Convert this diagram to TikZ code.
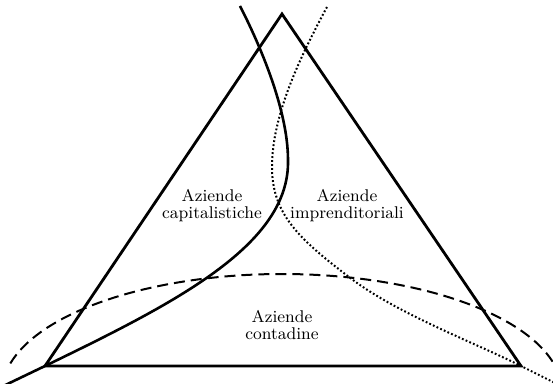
\documentclass[tikz,border=0pt]{standalone}
\usepackage{tikz}

\begin{document}
\begin{tikzpicture}[
  x=0.5pt, y=-0.5pt,
  sideLine/.style={line width=1.4pt, line join=miter},
  capLine/.style={line width=1.3pt},
  impLine/.style={line width=1pt, dash pattern=on 0.9pt off 1.1pt},
  conLine/.style={line width=1pt, dash pattern=on 5.5pt off 3pt},
  zoneLabel/.style={font=\fontsize{8.5}{8.5}\selectfont, align=center,
                    inner sep=0pt}
]
  \useasboundingbox (0,0) rectangle (553,384);

  % === Triangle ===
  \coordinate (apex) at (282,14);
  \coordinate (left) at (45,366);
  \coordinate (right) at (521,366);
  \draw[sideLine] (apex) -- (left) -- (right) -- cycle;

  % === Boundaries between the three kinds of farms ===
  \begin{scope}
    \clip (0,0) rectangle (553,384);
    \draw[conLine] plot[smooth, domain=166:5, samples=60]
      ({282+280*cos(\x)}, {392-118*sin(\x)});
    \draw[capLine] (240,6) .. controls (260,45) and (288,110) .. (288,160)
      .. controls (290,245) and (175,303) .. (left) -- (-5,390);
    \draw[impLine] (327,7) .. controls (300.6,56) and (272,115) .. (272,167)
      .. controls (272,215) and (300,240) .. (353,280)
      .. controls (400,315) and (480,345) .. (right) -- (560,385.5);
  \end{scope}

  % Labels
  \node[zoneLabel] (capLabel) at (212,206) {Aziende\\capitalistiche};
  \node[zoneLabel] (impLabel) at (347,206) {Aziende\\imprenditoriali};
  \node[zoneLabel] (conLabel) at (282,325) {Aziende\\contadine};
\end{tikzpicture}
\end{document}
